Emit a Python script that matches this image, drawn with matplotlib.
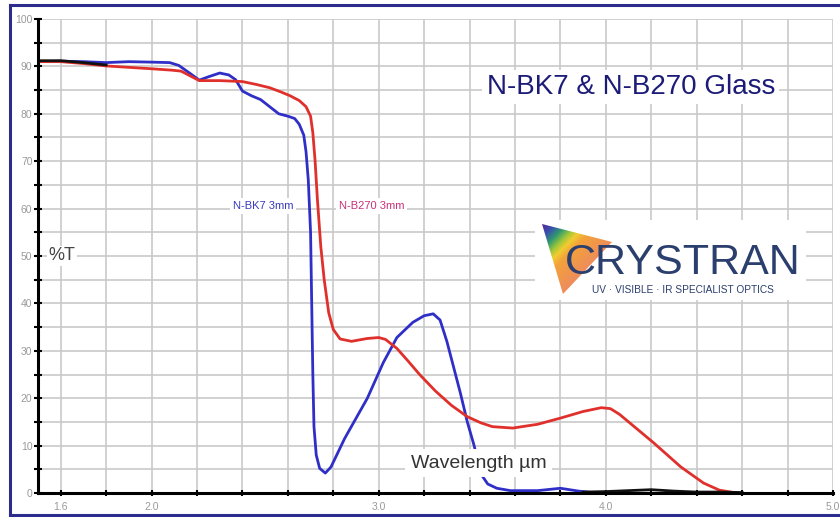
import matplotlib
matplotlib.use("Agg")
import matplotlib.pyplot as plt
import numpy as np
from matplotlib.lines import Line2D
from matplotlib.patches import Polygon, Rectangle

plt.rcParams['font.family'] = ['Liberation Sans', 'DejaVu Sans']

# transmission curves, wavelength in um / %T
bk7_x = [1.50, 1.60, 1.70, 1.80, 1.90, 2.00, 2.08, 2.12, 2.17, 2.21, 2.25, 2.30,
         2.34, 2.37, 2.40, 2.44, 2.48, 2.52, 2.56, 2.60, 2.63, 2.65, 2.67, 2.68,
         2.69, 2.70, 2.705, 2.71, 2.715, 2.725, 2.74, 2.765, 2.79, 2.85, 2.95,
         3.02, 3.08, 3.15, 3.20, 3.24, 3.27, 3.30, 3.33, 3.36, 3.39, 3.42, 3.45,
         3.48, 3.52, 3.58, 3.70, 3.80, 3.88, 3.92]
bk7_y = [91.0, 91.1, 91.0, 90.8, 91.0, 90.9, 90.8, 90.2, 88.5, 87.1, 87.8, 88.6,
         88.2, 87.2, 84.8, 83.8, 83.0, 81.5, 80.0, 79.5, 79.0, 77.8, 75.5, 72.0,
         66.0, 55.0, 40.0, 25.0, 14.0, 8.0, 5.2, 4.2, 5.5, 11.5, 20.0,
         27.5, 32.8, 36.0, 37.4, 37.8, 36.5, 32.0, 26.5, 21.0, 15.0, 10.0, 4.0,
         1.9, 1.0, 0.5, 0.5, 1.0, 0.4, 0.2]

b270_x = [1.50, 1.60, 1.70, 1.80, 1.90, 2.00, 2.09, 2.13, 2.17, 2.21, 2.30, 2.40,
          2.46, 2.52, 2.57, 2.61, 2.65, 2.68, 2.70, 2.71, 2.72, 2.73, 2.745, 2.76,
          2.78, 2.80, 2.83, 2.88, 2.95, 3.00, 3.03, 3.08, 3.13, 3.18, 3.25, 3.32,
          3.39, 3.45, 3.50, 3.59, 3.70, 3.80, 3.90, 3.98, 4.02, 4.06, 4.10, 4.21,
          4.33, 4.43, 4.50, 4.55]
b270_y = [91.0, 91.0, 90.6, 90.1, 89.8, 89.5, 89.2, 89.0, 88.0, 87.0, 87.0, 86.8,
          86.2, 85.5, 84.6, 83.8, 82.8, 81.5, 79.5, 76.0, 70.0, 62.0, 52.0, 45.0,
          38.0, 34.5, 32.5, 32.0, 32.6, 32.8, 32.4, 30.5, 27.8, 25.0, 21.5, 18.5,
          16.1, 14.8, 14.0, 13.7, 14.5, 15.8, 17.2, 18.0, 17.8, 16.6, 15.0, 10.6,
          5.5, 2.1, 0.6, 0.2]

# black trace where the curves overlap / near zero
blk1_x = [1.50, 1.60, 1.70, 1.80]
blk1_y = [91.2, 91.2, 90.8, 90.3]
blk2_x = [3.90, 4.00, 4.10, 4.20, 4.30, 4.40, 4.50, 4.60]
blk2_y = [0.2, 0.3, 0.5, 0.7, 0.4, 0.2, 0.2, 0.1]

x_ticks = np.round(np.arange(1.6, 5.01, 0.2), 1)
x_labeled = {1.6: '1.6', 2.0: '2.0', 3.0: '3.0', 4.0: '4.0', 5.0: '5.0'}
y_ticks = np.arange(0, 101, 10)

W, H = 840, 517
fig = plt.figure(figsize=(W / 100, H / 100), dpi=100)
fig.patch.set_facecolor('white')

ax = fig.add_axes([38 / W, 1 - 493 / H, (833 - 38) / W, (493 - 19) / H])
ax.set_xlim(1.5, 5.0)
ax.set_ylim(0, 100)

ax.plot(bk7_x, bk7_y, color='#2f2fc8', lw=2.0, zorder=3)
ax.plot(b270_x, b270_y, color='#e0302c', lw=2.0, zorder=3)
ax.plot(blk1_x, blk1_y, color='#111111', lw=2.0, zorder=4)
ax.plot(blk2_x, blk2_y, color='#111111', lw=2.0, zorder=4)

ax.set_xticks(x_ticks)
ax.set_xticklabels([x_labeled.get(v, '') for v in x_ticks])
ax.set_yticks(y_ticks)
ax.set_yticks(np.arange(5, 100, 10), minor=True)
ax.set_yticklabels([str(v) for v in y_ticks])

ax.grid(True, which='both', color='#c9c9c9', lw=1.2, zorder=0)
ax.set_axisbelow(True)
ax.tick_params(axis='x', direction='inout', length=5, width=1.5, pad=4,
               labelsize=7.5, labelcolor='#9a9a9a', color='black')
ax.tick_params(axis='y', which='both', direction='inout', length=6, width=1.5,
               pad=1, labelsize=7.5, labelcolor='#9a9a9a', color='black')

for loc, spine in ax.spines.items():
    if loc in ['top', 'right']:
        spine.set_visible(False)
    else:
        spine.set_linewidth(2.2)
        spine.set_color('black')
        spine.set_zorder(5)

box = dict(facecolor='white', edgecolor='none', pad=2)
ax.text(2.49, 60.5, 'N-BK7 3mm', color='#3a3ac0', fontsize=8, ha='center',
        va='center', bbox=box, zorder=6)
ax.text(2.97, 60.5, 'N-B270 3mm', color='#c8307a', fontsize=8, ha='center',
        va='center', bbox=box, zorder=6)
ax.text(1.545, 50, '%T', color='#444444', fontsize=13, ha='left', va='center',
        bbox=dict(facecolor='white', edgecolor='none', pad=1), zorder=6)
ax.text(3.14, 6.3, 'Wavelength µm', color='#333333', fontsize=14, ha='left',
        va='center', bbox=dict(facecolor='white', edgecolor='none', pad=4), zorder=6)
ax.text(4.11, 85.6, 'N-BK7 & N-B270 Glass', color='#1c1c78', fontsize=20,
        ha='center', va='center', bbox=dict(facecolor='white', edgecolor='none', pad=3),
        zorder=6)

# logo panel
ax.add_patch(Rectangle((3.69, 40.8), 1.19, 16.9, facecolor='white',
                       edgecolor='none', zorder=6))

lax = fig.add_axes([542 / W, 1 - 296 / H, 72 / W, 72 / H])
lax.set_xlim(0, 72)
lax.set_ylim(72, 0)
lax.axis('off')
gx, gy = np.meshgrid(np.linspace(0, 72, 200), np.linspace(0, 72, 200))
t = np.clip((gx + gy) / 90.0, 0, 1)
rainbow = matplotlib.colors.LinearSegmentedColormap.from_list(
    'logo', [(0.0, '#5a2a90'), (0.14, '#3a4cb0'), (0.28, '#2f9a70'),
             (0.40, '#9cc63a'), (0.50, '#f0cc30'), (0.62, '#f3a23a'),
             (1.0, '#ee8c5c')])
img = lax.imshow(t, cmap=rainbow, extent=[0, 72, 72, 0], origin='upper', zorder=8)
tri = Polygon([(0, 0), (70, 18), (21, 70)], closed=True, transform=lax.transData,
              facecolor='none', edgecolor='none')
lax.add_patch(tri)
img.set_clip_path(tri)

# logo lettering above the triangle
fig.text(683 / W, 1 - 263 / H, 'CRYSTRAN', color='#2b3f6e', fontsize=31,
         ha='center', va='center', zorder=10)
fig.text(683 / W, 1 - 290 / H, 'UV · VISIBLE · IR SPECIALIST OPTICS', color='#2b3f6e',
         fontsize=7.3, ha='center', va='center', zorder=10)

# outer frame
fc = '#2c2c8c'
fig.add_artist(Line2D([10 / W, 10 / W], [1 - 5 / H, 1 - 515 / H], color=fc, lw=2.2,
                      transform=fig.transFigure))
fig.add_artist(Line2D([10 / W, 1.0], [1 - 5 / H, 1 - 5 / H], color=fc, lw=2.2,
                      transform=fig.transFigure))
fig.add_artist(Line2D([10 / W, 1.0], [1 - 515 / H, 1 - 515 / H], color=fc, lw=2.2,
                      transform=fig.transFigure))

fig.savefig('out.png', dpi=100)
